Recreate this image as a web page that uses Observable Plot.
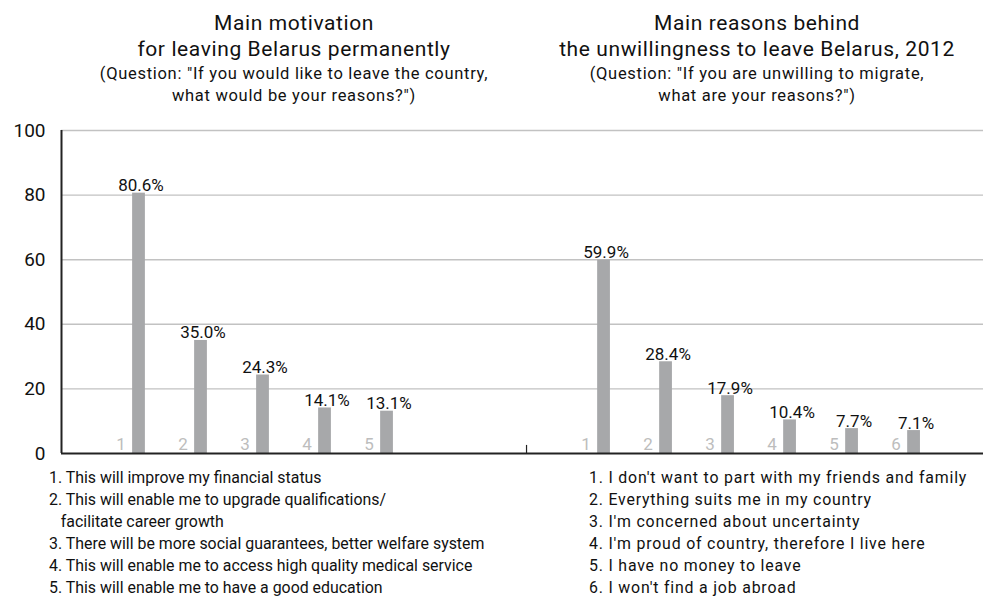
<!DOCTYPE html>
<html>
<head>
<meta charset="utf-8">
<script src="https://cdn.jsdelivr.net/npm/d3@7"></script>
<script src="https://cdn.jsdelivr.net/npm/@observablehq/plot@0.6"></script>
<style>
  html, body { margin: 0; padding: 0; background: #fff; }
  #wrap { position: relative; width: 983px; height: 606px; font-family: Roboto, "Liberation Sans", sans-serif; color: #111; }
  .blk { position: absolute; text-align: center; white-space: nowrap; }
  .title { font-size: 21px; line-height: 26px; letter-spacing: 0.6px; }
  .sub { font-size: 16.5px; line-height: 22px; letter-spacing: 0.7px; }
  .legend { position: absolute; font-size: 15.9px; line-height: 22px; white-space: nowrap; }
  #chart { position: absolute; left: 0; top: 0; }
</style>
</head>
<body>
<div id="wrap">
  <div id="chart"></div>
</div>
<script>
// ---- data ----
const leftTitle = ["Main motivation", "for leaving Belarus permanently"];
const leftSubtitle = ["(Question: \"If you would like to leave the country,", "what would be your reasons?\")"];
const rightTitle = ["Main reasons behind", "the unwillingness to leave Belarus, 2012"];
const rightSubtitle = ["(Question: \"If you are unwilling to migrate,", "what are your reasons?\")"];

const leftCategories = ["1", "2", "3", "4", "5"];
const leftValues = [80.6, 35.0, 24.3, 14.1, 13.1];
const rightCategories = ["1", "2", "3", "4", "5", "6"];
const rightValues = [59.9, 28.4, 17.9, 10.4, 7.7, 7.1];

const leftLegend = [
  "1. This will improve my financial status",
  "2. This will enable me to upgrade qualifications/",
  "\u00a0\u00a0\u00a0facilitate career growth",
  "3. There will be more social guarantees, better welfare system",
  "4. This will enable me to access high quality medical service",
  "5. This will enable me to have a good education"
];
const rightLegend = [
  "1. I don't want to part with my friends and family",
  "2. Everything suits me in my country",
  "3. I'm concerned about uncertainty",
  "4. I'm proud of country, therefore I live here",
  "5. I have no money to leave",
  "6. I won't find a job abroad"
];
const yTicks = [0, 20, 40, 60, 80, 100];

// ---- layout (slot positions) ----
const groupOffset = 7.5;   // right group starts 7.5 slots after the left one
const divider = 7.25;      // small tick between the two groups
const halfBar = 0.103;

const rows = [
  ...leftCategories.map((c, i) => ({label: c, value: leftValues[i], pos: i + 1})),
  ...rightCategories.map((c, i) => ({label: c, value: rightValues[i], pos: i + 1 + groupOffset}))
];

const W = 983, H = 606;
const plot = Plot.plot({
  width: W,
  height: H,
  marginLeft: 61,
  marginRight: 0,
  marginTop: 130,
  marginBottom: 153,
  style: {fontFamily: "Roboto, 'Liberation Sans', sans-serif", background: "transparent", overflow: "visible"},
  x: {domain: [-0.25, 14.62], axis: null},
  y: {domain: [0, 100], ticks: yTicks, tickSize: 0, tickPadding: 16, label: null},
  marks: [
    Plot.gridY(yTicks.filter(d => d > 0), {stroke: "#c2c2c2", strokeOpacity: 1, strokeWidth: 1.4}),
    Plot.axisY({ticks: yTicks, tickSize: 0, tickPadding: 16, fontSize: 19, fill: "#111", label: null}),
    Plot.rectY(rows, {x1: d => d.pos - halfBar, x2: d => d.pos + halfBar, y: "value", fill: "#a7a8aa"}),
    Plot.text(rows, {x: "pos", y: "value", text: d => d.value.toFixed(1) + "%", dy: -2, dx: 2, lineAnchor: "bottom", fontSize: 17, fill: "#111"}),
    Plot.text(rows, {x: "pos", y: 0, text: "label", dx: -18, dy: -4, lineAnchor: "bottom", fontSize: 17, fill: "#bdbdbd"}),
    Plot.ruleX([divider], {y1: 0, y2: 2.5, stroke: "#222", strokeWidth: 1.2}),
    Plot.ruleY([0], {stroke: "#222", strokeWidth: 2}),
    Plot.ruleX([-0.25], {y1: 0, y2: 100, stroke: "#222", strokeWidth: 2})
  ]
});
const wrap = document.getElementById("wrap");
document.getElementById("chart").appendChild(plot);

function esc(l) { return l.replace(/&/g, "&amp;").replace(/</g, "&lt;"); }
function block(lines, cls, cx, top, width) {
  const d = document.createElement("div");
  d.className = "blk " + cls;
  d.style.left = (cx - width / 2) + "px";
  d.style.width = width + "px";
  d.style.top = top + "px";
  d.innerHTML = lines.map(esc).join("<br>");
  wrap.appendChild(d);
}
block(leftTitle, "title", 294, 10, 460);
block(leftSubtitle, "sub", 294, 63, 460);
block(rightTitle, "title", 757, 10, 460);
block(rightSubtitle, "sub", 757, 63, 460);

function legend(lines, left, top, spacing) {
  const d = document.createElement("div");
  d.className = "legend";
  d.style.left = left + "px";
  d.style.top = top + "px";
  d.style.letterSpacing = spacing + "px";
  d.innerHTML = lines.map(esc).join("<br>");
  wrap.appendChild(d);
}
legend(leftLegend, 49, 467, 0);
legend(rightLegend, 589, 467, 0.8);
</script>
</body>
</html>
